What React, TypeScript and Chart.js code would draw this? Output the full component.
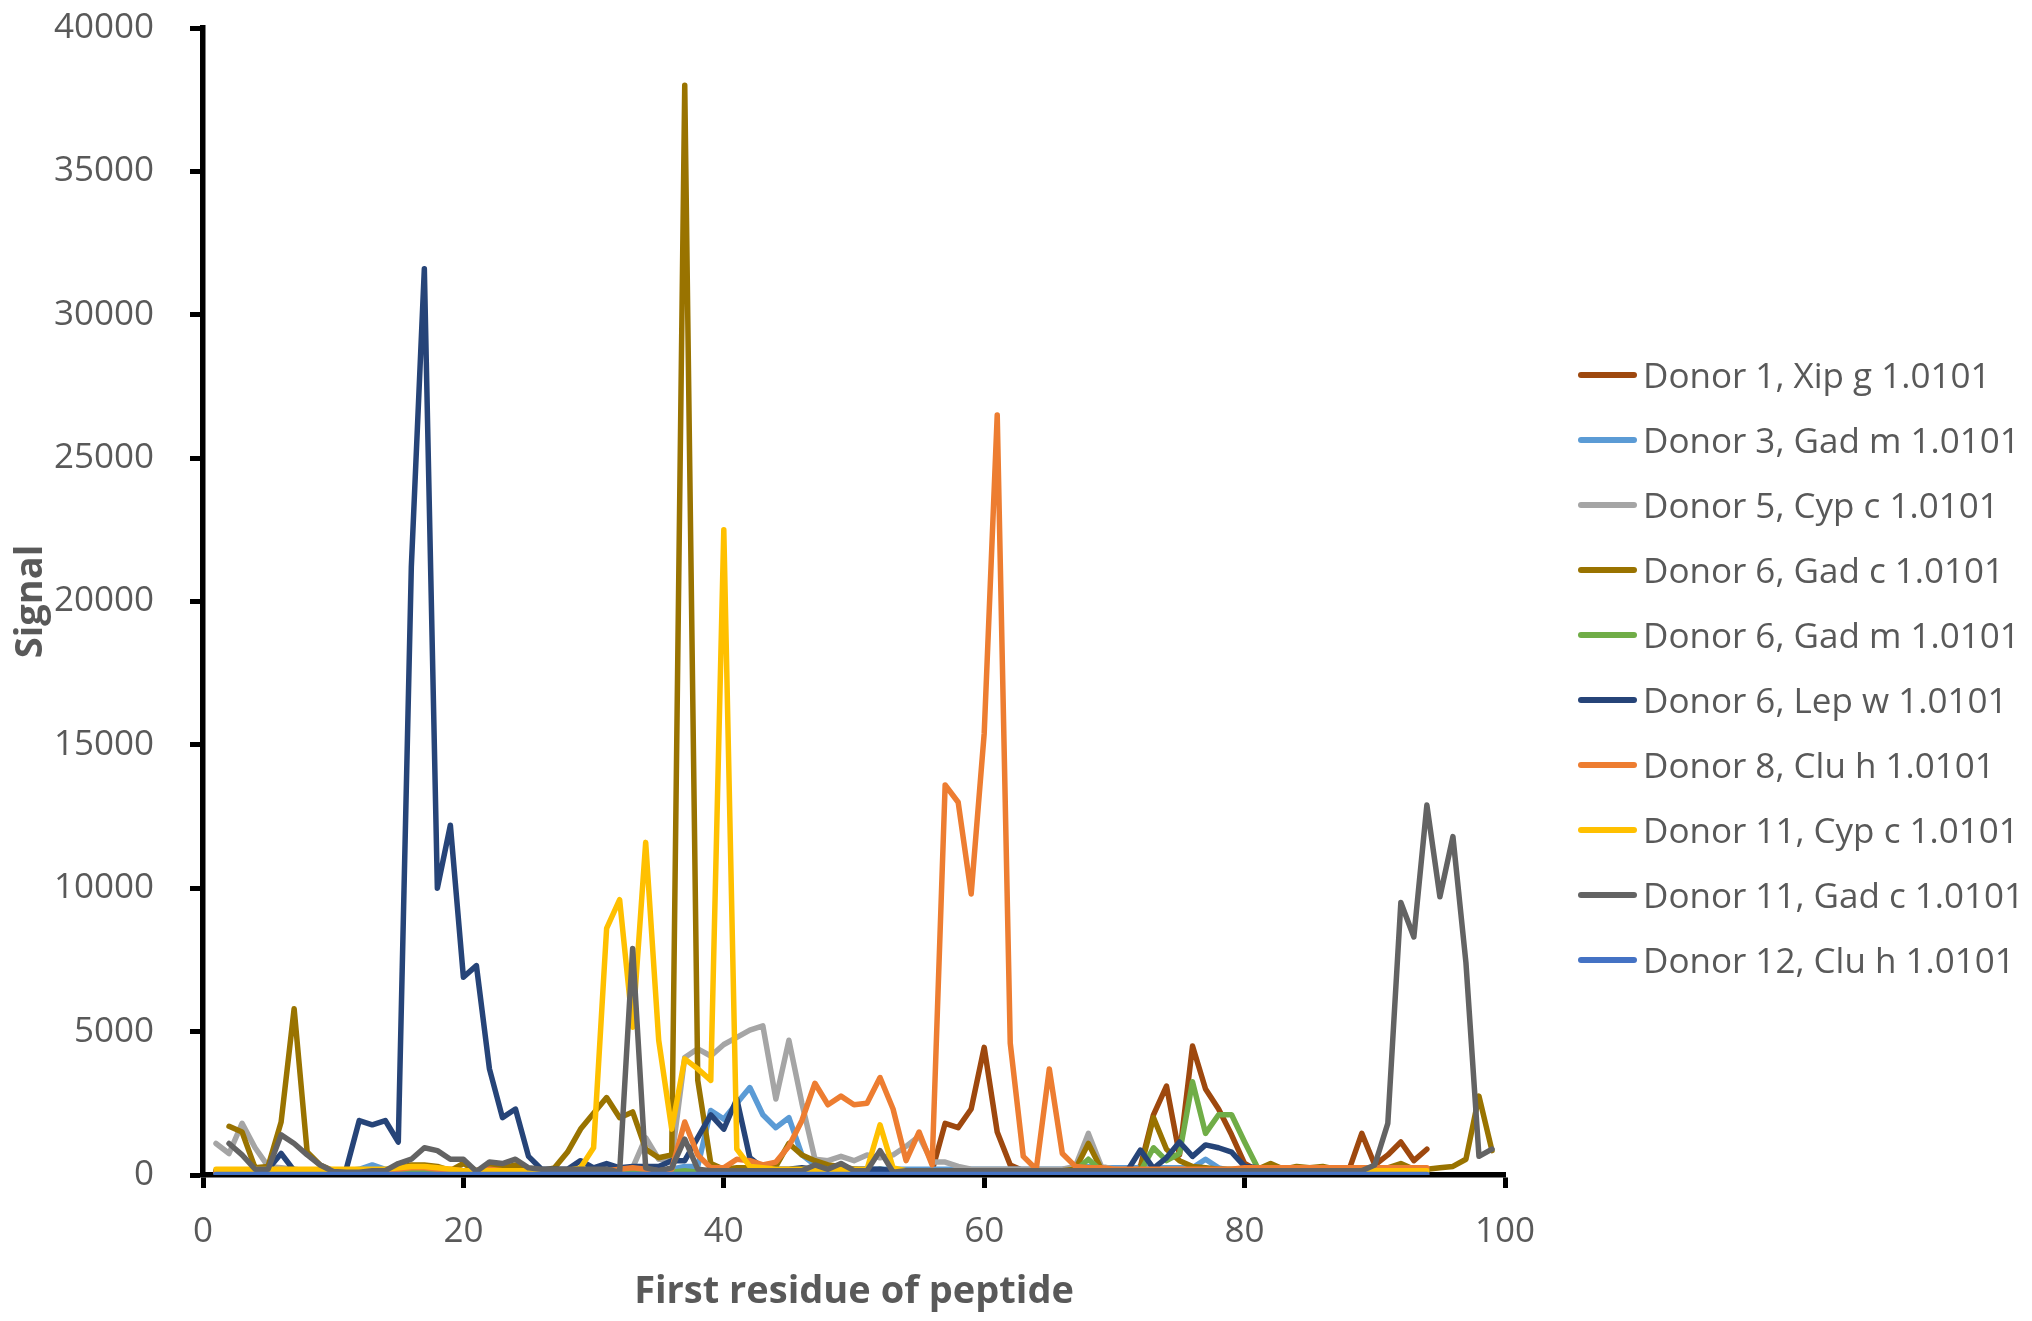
import { useEffect, useRef } from "react";
import { Chart, registerables } from "chart.js";

Chart.register(...registerables);

// series names and colours, in legend order
const seriesLabels = [
  "Donor 1, Xip g 1.0101",
  "Donor 3, Gad m 1.0101",
  "Donor 5, Cyp c 1.0101",
  "Donor 6, Gad c 1.0101",
  "Donor 6, Gad m 1.0101",
  "Donor 6, Lep w 1.0101",
  "Donor 8, Clu h 1.0101",
  "Donor 11, Cyp c 1.0101",
  "Donor 11, Gad c 1.0101",
  "Donor 12, Clu h 1.0101",
];

const seriesColors = [
  "#9E480E",
  "#5B9BD5",
  "#A5A5A5",
  "#997300",
  "#70AD47",
  "#264478",
  "#ED7D31",
  "#FFC000",
  "#636363",
  "#4472C4",
];

// signal per first residue, starting at residue 1
const donor1XipG = [
  100, 100, 100, 80, 80, 100, 100, 100, 80, 80,
  80, 100, 100, 100, 120, 120, 100, 100, 100, 100,
  100, 100, 100, 100, 100, 100, 100, 100, 100, 100,
  100, 100, 100, 100, 100, 150, 150, 100, 100, 100,
  100, 100, 100, 100, 100, 100, 150, 150, 150, 150,
  150, 100, 100, 100, 100, 150, 1800, 1650, 2300, 4450,
  1500, 350, 150, 100, 100, 100, 100, 150, 150, 100,
  100, 300, 2100, 3100, 700, 4500, 3000, 2300, 1400, 400,
  150, 150, 150, 150, 150, 150, 150, 150, 1450, 350,
  700, 1150, 500, 900,
];

const donor3GadM = [
  150, 150, 150, 150, 150, 150, 150, 150, 150, 150,
  150, 200, 350, 200, 150, 150, 150, 150, 150, 150,
  150, 150, 150, 150, 150, 150, 150, 150, 150, 150,
  150, 150, 150, 150, 150, 200, 300, 300, 2250, 1950,
  2500, 3050, 2100, 1650, 2000, 700, 350, 200, 200, 200,
  200, 200, 200, 200, 200, 200, 200, 200, 200, 200,
  200, 200, 200, 200, 200, 200, 250, 300, 250, 250,
  250, 250, 250, 250, 250, 250, 550, 250, 150, 150,
  150, 150, 150, 150, 150, 150, 150, 150, 150, 150,
  150, 150, 150, 150,
];

const donor5CypC = [
  1100, 750, 1800, 950, 300, 250, 200, 150, 150, 100,
  150, 150, 150, 150, 150, 200, 200, 150, 150, 150,
  150, 150, 150, 150, 150, 150, 150, 150, 200, 200,
  200, 200, 250, 1300, 550, 550, 4100, 4400, 4150, 4550,
  4800, 5050, 5200, 2650, 4700, 2500, 550, 500, 650, 500,
  700, 600, 700, 1000, 1350, 450, 450, 300, 200, 200,
  200, 200, 200, 200, 200, 200, 300, 1450, 300, 200,
  200, 200, 200, 200, 200, 200, 200, 200, 150, 150,
  150, 150, 150, 150, 150, 150, 150, 150, 150, 150,
  150, 150, 150, 150,
];

const donor6GadC = [
  null, 1700, 1500, 250, 300, 1850, 5800, 800, 350, 150,
  100, 100, 100, 150, 250, 350, 350, 300, 150, 400,
  150, 300, 250, 350, 200, 150, 250, 800, 1600, 2150,
  2700, 2000, 2200, 900, 600, 700, 38000, 3300, 400, 200,
  250, 250, 250, 300, 1100, 700, 500, 350, 300, 200,
  150, 150, 150, 150, 150, 150, 150, 150, 150, 150,
  150, 150, 150, 150, 150, 150, 200, 1100, 200, 150,
  150, 200, 2000, 900, 500, 300, 250, 200, 200, 200,
  200, 400, 200, 300, 250, 300, 200, 200, 200, 200,
  250, 400, 200, 200, 250, 300, 550, 2750, 850,
];

const donor6GadM = [
  100, 100, 100, 100, 100, 100, 100, 100, 100, 100,
  100, 100, 100, 100, 100, 100, 100, 100, 100, 100,
  100, 100, 100, 100, 100, 100, 100, 100, 100, 100,
  100, 100, 100, 100, 100, 100, 150, 100, 100, 100,
  100, 100, 100, 100, 100, 100, 100, 100, 100, 100,
  100, 200, 100, 100, 100, 100, 100, 100, 100, 100,
  100, 100, 100, 100, 100, 100, 150, 550, 150, 100,
  100, 120, 950, 500, 750, 3250, 1450, 2100, 2100, 1150,
  250, 150, 150, 150, 150, 150, 150, 150, 150, 150,
  150, 150, 150, 150,
];

const donor6LepW = [
  150, 150, 150, 150, 200, 750, 150, 150, 100, 100,
  200, 1900, 1750, 1900, 1150, 21200, 31600, 10000, 12200, 6900,
  7300, 3700, 2000, 2300, 650, 200, 200, 200, 500, 250,
  400, 250, 300, 300, 300, 500, 500, 1300, 2100, 1600,
  2650, 600, 250, 200, 200, 250, 200, 200, 200, 200,
  200, 200, 150, 150, 150, 150, 150, 150, 150, 150,
  150, 150, 150, 150, 150, 150, 150, 150, 150, 150,
  150, 870, 230, 600, 1150, 650, 1050, 950, 800, 300,
  250, 250, 150, 150, 150, 150, 150, 150, 150, 150,
  150, 150, 150, 150,
];

const donor8CluH = [
  100, 100, 100, 100, 100, 100, 100, 100, 100, 100,
  100, 100, 100, 150, 200, 250, 250, 200, 200, 150,
  150, 200, 150, 150, 150, 150, 150, 150, 150, 150,
  150, 200, 250, 200, 150, 200, 1850, 700, 250, 250,
  550, 500, 350, 450, 1000, 1900, 3200, 2450, 2750, 2450,
  2500, 3400, 2300, 500, 1500, 350, 13600, 13000, 9800, 15400,
  26500, 4600, 650, 200, 3700, 750, 300, 250, 250, 200,
  200, 200, 200, 200, 200, 200, 200, 200, 200, 250,
  250, 250, 250, 250, 250, 250, 250, 250, 250, 250,
  250, 250, 250, 250,
];

const donor11CypC = [
  200, 200, 200, 200, 200, 200, 200, 200, 200, 200,
  200, 200, 200, 200, 250, 300, 300, 250, 200, 150,
  150, 150, 150, 150, 150, 150, 150, 150, 250, 950,
  8600, 9600, 5150, 11600, 4700, 1600, 4050, 3700, 3300, 22500,
  900, 300, 250, 200, 200, 200, 200, 200, 200, 200,
  200, 1750, 250, 150, 150, 150, 150, 150, 150, 150,
  150, 150, 150, 150, 150, 150, 150, 150, 150, 150,
  150, 150, 150, 150, 150, 150, 150, 150, 150, 150,
  150, 150, 150, 150, 150, 150, 150, 150, 150, 150,
  150, 150, 150, 150,
];

const donor11GadC = [
  null, 1100, 700, 200, 200, 1400, 1100, 700, 350, 120,
  100, 100, 150, 150, 400, 550, 950, 850, 550, 550,
  120, 450, 400, 550, 250, 200, 200, 200, 200, 200,
  200, 100, 7900, 250, 150, 250, 1250, 200, 150, 150,
  150, 150, 150, 150, 150, 150, 350, 200, 400, 150,
  150, 850, 100, 150, 150, 150, 150, 150, 150, 150,
  150, 150, 150, 150, 150, 150, 150, 150, 150, 150,
  150, 150, 150, 150, 150, 150, 150, 150, 150, 150,
  150, 150, 150, 150, 150, 150, 150, 150, 150, 350,
  1800, 9500, 8300, 12900, 9700, 11800, 7400, 650, 900,
];

const donor12CluH = [
  20, 20, 20, 20, 20, 20, 20, 20, 20, 20,
  20, 20, 20, 20, 20, 20, 20, 20, 20, 20,
  20, 20, 20, 20, 20, 20, 20, 20, 20, 20,
  20, 20, 20, 20, 20, 20, 20, 20, 20, 20,
  20, 20, 20, 20, 20, 20, 20, 20, 20, 20,
  20, 20, 20, 20, 20, 20, 20, 20, 20, 20,
  20, 20, 20, 20, 20, 20, 20, 20, 20, 20,
  20, 20, 20, 20, 20, 20, 20, 20, 20, 20,
  20, 20, 20, 20, 20, 20, 20, 20, 20, 20,
  20, 20, 20, 20,
];

const seriesValues = [
  donor1XipG,
  donor3GadM,
  donor5CypC,
  donor6GadC,
  donor6GadM,
  donor6LepW,
  donor8CluH,
  donor11CypC,
  donor11GadC,
  donor12CluH,
];

const xTicks = [0, 20, 40, 60, 80, 100];
const yTicks = [0, 5000, 10000, 15000, 20000, 25000, 30000, 35000, 40000];

const textGray = "#595959";
const fontFamily = "'Open Sans', 'Liberation Sans', sans-serif";

export default function App() {
  const chartRef = useRef<HTMLCanvasElement>(null);
  const chartInstanceRef = useRef<Chart | null>(null);

  useEffect(() => {
    if (!chartRef.current) return;

    if (chartInstanceRef.current) {
      chartInstanceRef.current.destroy();
    }

    const ctx = chartRef.current.getContext("2d");
    if (!ctx) return;

    const count = seriesValues.length;

    chartInstanceRef.current = new Chart(ctx, {
      type: "line",
      data: {
        datasets: seriesValues.map((values, i) => ({
          label: seriesLabels[i],
          data: values.map((v, j) => ({ x: j + 1, y: v })),
          borderColor: seriesColors[i],
          backgroundColor: seriesColors[i],
          borderWidth: 5.5,
          borderCapStyle: "round" as const,
          borderJoinStyle: "round" as const,
          pointRadius: 0,
          tension: 0,
          fill: false,
          // later series on top, as in the original
          order: count - 1 - i,
        })),
      },
      options: {
        responsive: false,
        devicePixelRatio: 1,
        animation: false,
        layout: {
          padding: { left: 6, top: 28, right: 527, bottom: 0 },
        },
        plugins: {
          legend: { display: false },
          tooltip: { enabled: false },
        },
        scales: {
          x: {
            type: "linear",
            min: 0,
            max: 100,
            afterBuildTicks: (axis) => {
              axis.ticks = xTicks.map((v) => ({ value: v }));
            },
            // fix the axis band so the plot bottom sits where the original has it
            afterFit: (axis) => {
              axis.height = 146;
            },
            grid: {
              drawOnChartArea: false,
              drawTicks: true,
              tickLength: 13,
              tickColor: "#000",
              tickWidth: 5,
            },
            border: { display: true, color: "#000", width: 5.5 },
            ticks: {
              padding: 23,
              color: textGray,
              font: { family: fontFamily, size: 35 },
            },
            title: {
              display: true,
              text: "First residue of peptide",
              color: textGray,
              font: { family: fontFamily, size: 38, weight: "bold" },
              padding: { top: 18, bottom: 6 },
            },
          },
          y: {
            min: 0,
            max: 40000,
            afterBuildTicks: (axis) => {
              axis.ticks = yTicks.map((v) => ({ value: v }));
            },
            afterFit: (axis) => {
              axis.width = 197;
              axis.paddingTop = 0;
              axis.paddingBottom = 0;
            },
            grid: {
              drawOnChartArea: false,
              drawTicks: true,
              tickLength: 13,
              tickColor: "#000",
              tickWidth: 5,
            },
            border: { display: true, color: "#000", width: 5.5 },
            ticks: {
              padding: 36,
              color: textGray,
              font: { family: fontFamily, size: 35 },
              callback: (value) => String(value),
            },
            title: {
              display: true,
              text: "Signal",
              color: textGray,
              font: { family: fontFamily, size: 38, weight: "bold" },
              padding: { top: 2, bottom: 2 },
            },
          },
        },
      },
    });

    return () => {
      if (chartInstanceRef.current) {
        chartInstanceRef.current.destroy();
        chartInstanceRef.current = null;
      }
    };
  }, []);

  return (
    <div
      style={{
        position: "absolute",
        left: 0,
        top: 0,
        width: 2032,
        height: 1321,
        background: "#fff",
      }}
    >
      <canvas ref={chartRef} width={2032} height={1321} />
      {seriesLabels.map((label, i) => (
        <div
          key={label}
          style={{
            position: "absolute",
            left: 1578,
            top: 375 + 65 * i - 21,
            height: 42,
            display: "flex",
            alignItems: "center",
            whiteSpace: "nowrap",
          }}
        >
          <span
            style={{
              display: "inline-block",
              width: 59,
              height: 6,
              borderRadius: 3,
              background: seriesColors[i],
              marginRight: 6,
            }}
          />
          <span
            style={{
              fontFamily,
              fontSize: 35,
              lineHeight: "42px",
              color: textGray,
            }}
          >
            {label}
          </span>
        </div>
      ))}
    </div>
  );
}
